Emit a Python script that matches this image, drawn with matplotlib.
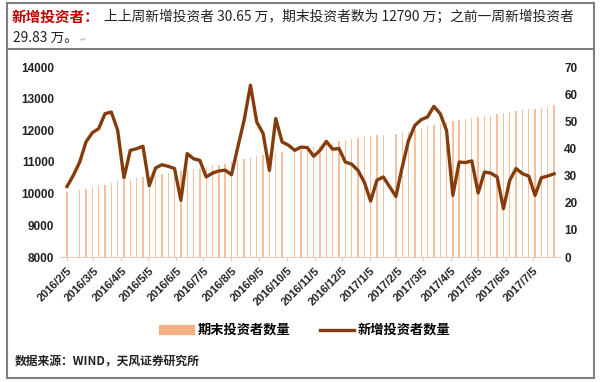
import numpy as np
import pandas as pd
import matplotlib
matplotlib.use('Agg')
import matplotlib.pyplot as plt
from matplotlib.patches import Patch, Rectangle
from matplotlib.lines import Line2D

plt.rcParams['font.family'] = ['Noto Sans CJK SC', 'DejaVu Sans']

# weekly data, 2016/2/5 .. 2017/7/28
weeks = pd.date_range('2016-02-05', periods=78, freq='7D')

# 期末投资者数量 (万), left axis; nan = no bar that week
total_investors = [
    10050, np.nan, 10126, 10158, 10199, 10230, 10283, 10336, 10388, 10441,
    10473, 10504, 10525, 10567, 10599, 10630, 10651, 10680, 10715, 10745,
    10765, 10790, 10840, 10893, 10920, 10950, 10990, 11050, 11104, 11135,
    11177, 11210, 11240, 11290, 11320, np.nan, 11366, 11390, 11420, 11470,
    11520, 11570, 11615, 11659, 11690, 11722, 11754, 11808, 11830, 11840,
    11850, np.nan, 11893, 11914, 11960, 12010, 12050, 12123, 12170, 12210,
    12250, 12281, 12312, 12366, 12397, 12416, 12438, 12470, 12524, 12543,
    12574, 12606, 12628, 12659, 12681, 12713, 12750, 12790,
]

# 新增投资者数量 (万), right axis
new_investors = [
    26.0, 30.1, 35.0, 42.4, 45.8, 47.3, 52.8, 53.4, 46.7, 29.2,
    39.3, 39.9, 40.8, 26.3, 32.8, 34.0, 33.4, 32.6, 20.9, 38.1,
    36.2, 35.6, 29.5, 30.9, 31.7, 32.0, 30.3, 40.5, 50.4, 63.3,
    49.7, 45.5, 31.9, 51.0, 42.4, 41.2, 39.3, 40.5, 40.3, 37.1,
    39.3, 42.6, 39.7, 40.0, 35.0, 34.2, 31.9, 27.6, 20.6, 28.3,
    29.5, 25.9, 22.3, 33.2, 43.0, 48.5, 50.6, 51.6, 55.5, 52.8,
    46.7, 22.7, 35.0, 34.8, 35.4, 23.6, 31.3, 30.9, 29.5, 17.8,
    28.3, 32.6, 30.7, 29.8, 22.7, 29.2, 29.83, 30.65,
]

# one tick on the 5th of every month
tick_dates = pd.date_range('2016-02-01', '2017-07-01', freq='MS') + pd.Timedelta(days=4)
tick_labels = [f'{d.year}/{d.month}/{d.day}' for d in tick_dates]

bar_color = '#F4B183'
line_color = '#843C0C'

W, H = 600, 382


def fx(x):
    return x / W


def fy(y):
    return 1 - y / H


fig = plt.figure(figsize=(6, 3.82), dpi=100)

# frame around the whole clip, with the separator under the text
fig.add_artist(Rectangle((fx(7), fy(378)), fx(587), 375 / H, transform=fig.transFigure,
                         fill=False, edgecolor='#7f7f7f', linewidth=1.5))
fig.add_artist(Line2D([fx(7), fx(594)], [fy(48.5), fy(48.5)], transform=fig.transFigure,
                      color='#7f7f7f', linewidth=1.5))

# heading text
fig.text(fx(12), fy(17), '新增投资者：', color='#C00000', fontsize=10.5,
         fontweight='bold', va='center', ha='left')
fig.text(fx(104), fy(17), '上上周新增投资者 30.65 万，期末投资者数为 12790 万；之前一周新增投资者',
         color='#222222', fontsize=9.9, va='center', ha='left')
fig.text(fx(13), fy(38), '29.83 万。', color='#222222', fontsize=9.9,
         va='center', ha='left')
fig.text(fx(80), fy(39), '↵', color='#bbbbbb', fontsize=6, va='center', ha='left')

ax = fig.add_axes([fx(60), fy(257), 500 / W, 190 / H])
ax.bar(weeks, total_investors, width=1.5, color=bar_color, alpha=0.8, linewidth=0)
ax.set_ylim(8000, 14000)
ax.set_yticks(range(8000, 14001, 1000))
ax.set_xlim(weeks[0] - pd.Timedelta(days=7.8), weeks[-1] + pd.Timedelta(days=6.6))
ax.set_xticks(tick_dates)
ax.set_xticklabels(tick_labels, rotation=45, ha='right', rotation_mode='anchor',
                   fontsize=8, fontweight='bold', color='#222222',
                   family=['Liberation Sans', 'DejaVu Sans'])
for lab in ax.get_yticklabels():
    lab.set_fontweight('bold')
    lab.set_family(['Liberation Sans', 'DejaVu Sans'])
ax.tick_params(axis='y', length=0, pad=4, labelsize=8.5, labelcolor='#222222')
ax.tick_params(axis='x', length=3, color='#E9CDB6', pad=3)
for s in ['top', 'left', 'right']:
    ax.spines[s].set_visible(False)
ax.spines['bottom'].set_color('#E9CDB6')

ax2 = ax.twinx()
ax2.plot(weeks, new_investors, color=line_color, linewidth=2.4, solid_joinstyle='round')
ax2.set_ylim(0, 70)
ax2.set_yticks(range(0, 71, 10))
for lab in ax2.get_yticklabels():
    lab.set_fontweight('bold')
    lab.set_family(['Liberation Sans', 'DejaVu Sans'])
ax2.tick_params(axis='y', length=0, pad=3, labelsize=8.5, labelcolor='#222222')
for s in ['top', 'left', 'right', 'bottom']:
    ax2.spines[s].set_visible(False)

handles = [Patch(color=bar_color, label='期末投资者数量'),
           Line2D([], [], color=line_color, linewidth=2.4, label='新增投资者数量')]
fig.legend(handles=handles, loc='center', bbox_to_anchor=(fx(305), fy(330)),
           ncol=2, frameon=False, handlelength=2.6, handleheight=0.6,
           columnspacing=2.2, handletextpad=0.3,
           prop={'size': 9.5, 'weight': 'bold'})

fig.text(fx(15), fy(362), '数据来源：WIND，天风证券研究所', fontsize=8.5,
         fontweight='bold', fontstyle='italic', color='#222222', va='center', ha='left')

fig.savefig('out.png', dpi=100)
